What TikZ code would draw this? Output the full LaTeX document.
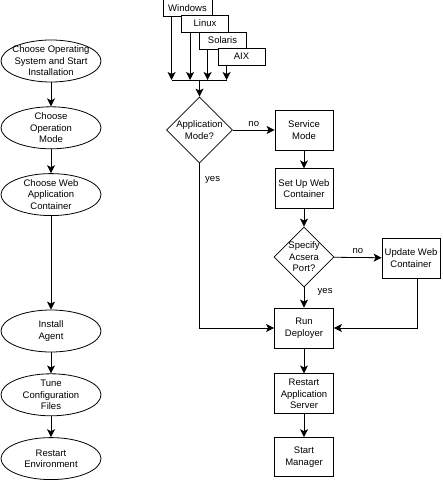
\documentclass[tikz,border=0pt]{standalone}
\usepackage{fontspec}
\setmainfont{Liberation Sans}
\usetikzlibrary{shapes.geometric,arrows.meta,positioning}

\begin{document}
\begin{tikzpicture}[x=1pt,y=-1pt,->,>={Stealth[length=8pt,width=8pt,inset=2pt]},
line width=0.8pt,node distance=24pt,font=\fontsize{9.5}{11.5}\selectfont,
stage node/.style={ellipse,draw,align=center,minimum width=100pt,minimum height=42pt,inner xsep=-4pt,inner ysep=-2pt},
task node/.style={rectangle,draw,align=center,minimum width=59pt,minimum height=40pt,inner sep=1pt},
query node/.style={diamond,draw,align=center,minimum width=66pt,minimum height=66pt,inner sep=-2pt},
os node/.style={rectangle,draw,fill=white,minimum width=47pt,minimum height=17pt,inner sep=1pt}]
\useasboundingbox (0,0) rectangle (442,484);

% Left column
  \node[stage node] (os) at (51,61) {Choose Operating\\System and Start\\Installation};
  \node[stage node] (mode) [below=of os] {Choose\\Operation\\Mode};
  \node[stage node] (web) [below=of mode] {Choose Web\\Application\\Container};
  \node[stage node] (agent) at (51,331) {Install\\Agent};
  \node[stage node] (tune) [below=21pt of agent] {Tune\\Configuration\\Files};
  \node[stage node] (env) [below=21pt of tune] {Restart\\Environment};

  \path
    (os) edge (mode)
    (mode) edge (web)
    (web) edge (agent)
    (agent) edge (tune)
    (tune) edge (env);

% Operating systems
  \node[os node,minimum width=49pt] (win) at (187.5,8) {Windows};
  \node[os node] (lin) at (205,23.5) {Linux};
  \node[os node] (sol) at (222.5,40.5) {Solaris};
  \node[os node] (aix) at (241.5,56.5) {AIX};
  \coordinate (join) at (199.5,80);

  \foreach \sys in {win,lin,sol,aix}
    \draw ([xshift=9pt]\sys.south west) -- ([xshift=9pt]\sys.south west |- join);
  \draw[-] ([xshift=9pt]win.south west |- join) -- ([xshift=9pt]aix.south west |- join);

% Right column
  \node[query node] (appmode) at (199.5,130) {Application\\Mode?};
  \node[task node,minimum width=58pt] (service) at (304,130) {Service\\Mode};
  \node[task node,minimum width=58pt] (setup) [below=18pt of service] {Set Up Web\\Container};
  \node[query node,minimum width=60pt,minimum height=60pt] (port) at (304,257) {Specify\\Acsera\\Port?};
  \node[task node,minimum width=58pt] (update) at (411,258) {Update Web\\Container};
  \node[task node] (run) at (304,328) {Run\\Deployer};
  \node[task node] (server) [below=25pt of run] {Restart\\Application\\Server};
  \node[task node,minimum height=39pt] (mgr) [below=23pt of server] {Start\\Manager};

  \path
    (join) edge (appmode)
    (appmode) edge node[above] {no} (service)
    (service) edge (setup)
    (setup) edge (port)
    (port) edge node[above] {no} (update)
    (port) edge node[right=10pt,pos=0.2] {yes} (run)
    (run) edge (server)
    (server) edge (mgr);

  \draw (appmode.south) |- node[right=2pt,pos=0.05] {yes} (run.west);
  \draw ([xshift=6pt]update.south) |- (run.east);

\end{tikzpicture}
\end{document}
